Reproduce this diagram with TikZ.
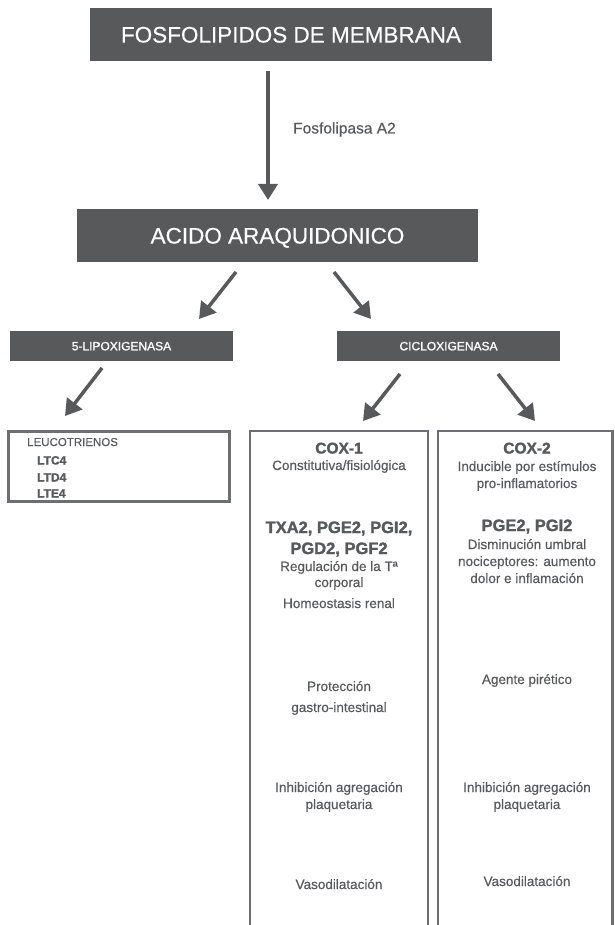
\documentclass[tikz,border=0pt]{standalone}
\usepackage{fontspec}
\setmainfont{Liberation Sans}
\newfontfamily\heavyfont[FakeBold=1.6]{Liberation Sans}
\newfontfamily\medfont[FakeBold=1.3]{Liberation Sans}
\newfontfamily\regfont[FakeBold=0.4]{Liberation Sans}
\usetikzlibrary{arrows.meta}
\definecolor{dgrey}{HTML}{58595B}
\definecolor{lgrey}{HTML}{6D6E71}
\begin{document}
\begin{tikzpicture}[x=1pt,y=-1pt,
  darkbox/.style={fill=dgrey, draw=none, inner sep=0pt, text=white, text depth=0pt},
  bigtxt/.style={font=\regfont\fontsize{22.5}{26}\selectfont, text height=16.1pt},
  smalltxt/.style={font=\medfont\fontsize{12}{14}\selectfont, text height=8.6pt},
  body/.style={text=dgrey, inner sep=0pt, anchor=base, font=\regfont\fontsize{13.5}{16}\selectfont},
  bodyb/.style={text=dgrey, inner sep=0pt, anchor=base, font=\heavyfont\fontsize{16.5}{19}\selectfont\bfseries},
  head/.style={text=dgrey, inner sep=0pt, anchor=base, font=\heavyfont\fontsize{15.5}{18}\selectfont\bfseries},
  ltxt/.style={text=dgrey, inner sep=0pt, anchor=base west, font=\regfont\fontsize{11.5}{14}\selectfont},
  ltxtb/.style={text=dgrey, inner sep=0pt, anchor=base west, font=\heavyfont\fontsize{12}{14}\selectfont\bfseries},
  arr/.style={draw=dgrey, line width=3.5pt, -{Triangle[width=19pt,length=16pt]}},
  frame/.style={draw=lgrey, line width=2.5pt}]
\useasboundingbox (0,0) rectangle (614,925);
% dark boxes
\node[darkbox, bigtxt, minimum width=402pt, minimum height=53pt] (fosf) at (291,34.5) {FOSFOLIPIDOS DE MEMBRANA};
\node[darkbox, bigtxt, minimum width=401pt, minimum height=53pt] (acido) at (277.5,235.5) {ACIDO ARAQUIDONICO};
\node[darkbox, smalltxt, minimum width=223pt, minimum height=30pt] (lipox) at (121.5,346) {5-LIPOXIGENASA};
\node[darkbox, smalltxt, minimum width=223pt, minimum height=30pt] (ciclox) at (448.5,346) {CICLOXIGENASA};
% arrows
\coordinate (a1s) at (268,71); \coordinate (a1e) at (268,200);
\coordinate (a2s) at (236,272); \coordinate (a2e) at (199,319);
\coordinate (a3s) at (334,272); \coordinate (a3e) at (371,319);
\coordinate (a4s) at (102,368); \coordinate (a4e) at (65,416);
\coordinate (a5s) at (400,374); \coordinate (a5e) at (363,421);
\coordinate (a6s) at (498,374); \coordinate (a6e) at (535,421);
\draw[arr] (a1s) -- (a1e);
\draw[arr] (a2s) -- (a2e);
\draw[arr] (a3s) -- (a3e);
\draw[arr] (a4s) -- (a4e);
\draw[arr] (a5s) -- (a5e);
\draw[arr] (a6s) -- (a6e);
\node[text=dgrey, inner sep=0pt, anchor=base west, font=\regfont\fontsize{15.5}{18}\selectfont] (fla2) at (293,133.5) {Fosfolipasa A2};
% leucotrienos box
\node[frame, minimum width=221pt, minimum height=70pt, anchor=north west, inner sep=0pt] (leuc) at (7,430) {};
\node[ltxt] (leu0) at (27,446) {LEUCOTRIENOS};
\node[ltxtb] (leu1) at (37,464.5) {LTC4};
\node[ltxtb] (leu2) at (37,481.5) {LTD4};
\node[ltxtb] (leu3) at (37,497.5) {LTE4};
% columns
\coordinate (c1bl) at (250,926); \coordinate (c1tl) at (250,431);
\coordinate (c1tr) at (428,431); \coordinate (c1br) at (428,926);
\coordinate (c2bl) at (438,926); \coordinate (c2tl) at (438,431);
\coordinate (c2tr) at (612.5,431); \coordinate (c2br) at (612.5,926);
\draw[frame] (c1bl) -- (c1tl) -- (c1tr) -- (c1br);
\draw[frame] (c2bl) -- (c2tl) -- (c2tr) -- (c2br);
% COX-1 column
\node[head] (x1) at (339,453.5) {COX-1};
\node[body] (x1a) at (339,470) {Constitutiva/fisiológica};
\node[bodyb] (x1b) at (339,533) {TXA2, PGE2, PGI2,};
\node[bodyb] (x1c) at (339,554) {PGD2, PGF2};
\node[body] (x1d) at (339,571) {Regulación de la Tª};
\node[body] (x1e) at (339,587) {corporal};
\node[body] (x1f) at (339,608) {Homeostasis renal};
\node[body] (x1g) at (339,691) {Protección};
\node[body] (x1h) at (339,712) {gastro-intestinal};
\node[body] (x1i) at (339,792) {Inhibición agregación};
\node[body] (x1j) at (339,809) {plaquetaria};
\node[body] (x1k) at (339,889) {Vasodilatación};
% COX-2 column
\node[head] (x2) at (527,453.5) {COX-2};
\node[body] (x2a) at (527,471) {Inducible por estímulos};
\node[body] (x2b) at (527,488) {pro-inflamatorios};
\node[bodyb] (x2c) at (527,531) {PGE2, PGI2};
\node[body] (x2d) at (527,549) {Disminución umbral};
\node[body] (x2e) at (527,566) {nociceptores: aumento};
\node[body] (x2f) at (527,583) {dolor e inflamación};
\node[body] (x2g) at (527,684) {Agente pirético};
\node[body] (x2h) at (527,792) {Inhibición agregación};
\node[body] (x2i) at (527,809) {plaquetaria};
\node[body] (x2j) at (527,886) {Vasodilatación};
\end{tikzpicture}
\end{document}
